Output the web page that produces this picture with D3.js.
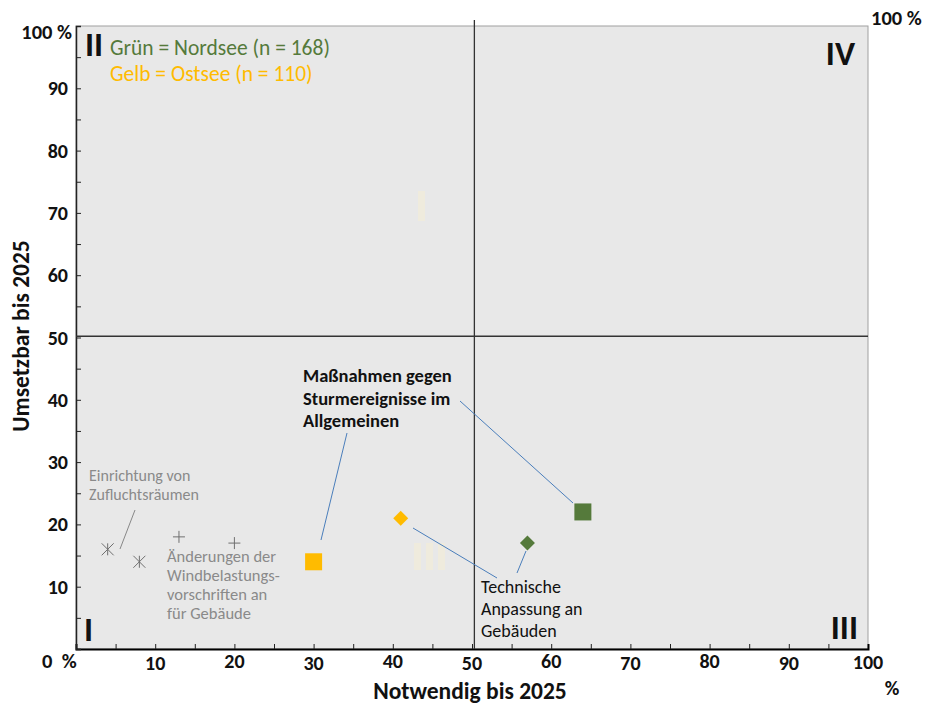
<!DOCTYPE html>
<html>
<head>
<meta charset="utf-8">
<script src="https://cdn.jsdelivr.net/npm/d3@7"></script>
<style>
  html, body { margin: 0; padding: 0; background: #fff; }
  svg { display: block; font-family: Carlito, Lato, "Open Sans", sans-serif; }
</style>
</head>
<body>
<svg id="chart" width="925" height="705"></svg>
<script>
// ---------------- data ----------------
const pointNames = [
  "Maßnahmen gegen Sturmereignisse im Allgemeinen (Nordsee)",
  "Technische Anpassung an Gebäuden (Nordsee)",
  "Maßnahmen gegen Sturmereignisse im Allgemeinen (Ostsee)",
  "Technische Anpassung an Gebäuden (Ostsee)",
  "Einrichtung von Zufluchtsräumen (a)",
  "Einrichtung von Zufluchtsräumen (b)",
  "Änderungen der Windbelastungsvorschriften (a)",
  "Änderungen der Windbelastungsvorschriften (b)"
];
const notwendig = [64, 57, 30, 41, 4, 8, 13, 20];   // x, %
const umsetzbar = [22, 17, 14, 21, 16, 14, 18, 17]; // y, %
const pointShape = ["square", "diamond", "square", "diamond", "asterisk", "asterisk", "plus", "plus"];
const pointGroup = ["Nordsee", "Nordsee", "Ostsee", "Ostsee", "other", "other", "other", "other"];

const xTickValues = [10, 20, 30, 40, 50, 60, 70, 80, 90];
const yTickValues = [10, 20, 30, 40, 50, 60, 70, 80, 90];
const legendLines = ["Grün = Nordsee (n = 168)", "Gelb = Ostsee (n = 110)"];
const quadrantLabels = ["I", "II", "III", "IV"];

// ---------------- setup ----------------
const svg = d3.select("#chart");
const L = 76, R = 868, T = 26, B = 649;
const x = d3.scaleLinear().domain([0, 100]).range([L, R]);
const y = d3.scaleLinear().domain([0, 100]).range([B, T]);
const colors = { Nordsee: "#557a3b", Ostsee: "#ffbb00", other: "#7f7f7f" };

// plot background
svg.append("rect")
  .attr("x", x(0)).attr("y", y(100))
  .attr("width", x(100) - x(0)).attr("height", y(0) - y(100))
  .attr("fill", "#e8e8e8").attr("stroke", "#a0a0a0").attr("stroke-width", 1);

// faint ghost labels
svg.append("rect").attr("x", 418).attr("y", 191).attr("width", 7).attr("height", 30).attr("fill", "#efebdd");
[0, 1, 2].forEach(i => svg.append("rect").attr("x", 414 + i * 12).attr("y", 543).attr("width", 7).attr("height", 27).attr("fill", "#efebdd"));

// axes (ticks inside)
const xAxis = d3.axisBottom(x).tickValues(d3.range(5, 100, 5)).tickSize(-5).tickFormat("");
const gx = svg.append("g").attr("transform", `translate(0,${B})`).call(xAxis);
gx.select(".domain").attr("stroke", "#000").attr("stroke-width", 2);
gx.selectAll(".tick line").attr("stroke", "#222");

const yAxis = d3.axisLeft(y).tickValues(d3.range(5, 100, 5)).tickSize(-5).tickFormat("");
const gy = svg.append("g").attr("transform", `translate(${L},0)`).call(yAxis);
gy.select(".domain").attr("stroke", "#222").attr("stroke-width", 1.5);
gy.selectAll(".tick line").attr("stroke", "#222");

// quadrant lines
svg.append("line").attr("x1", x(50.3)).attr("x2", x(50.3)).attr("y1", 20).attr("y2", B)
  .attr("stroke", "#333").attr("stroke-width", 1.3);
svg.append("line").attr("x1", x(0)).attr("x2", x(100)).attr("y1", y(50.2)).attr("y2", y(50.2))
  .attr("stroke", "#333").attr("stroke-width", 1.3);

// tick labels
svg.append("g").selectAll("text").data(yTickValues).join("text")
  .attr("x", 68).attr("y", d => y(d) + 7)
  .attr("text-anchor", "end").attr("font-weight", "bold").attr("font-size", 20)
  .attr("fill", "#111").text(d => d);
svg.append("g").selectAll("text").data(xTickValues).join("text")
  .attr("x", d => x(d)).attr("y", (d, i) => 669 + (i % 2 === 0 ? 1 : -1))
  .attr("text-anchor", "middle").attr("font-weight", "bold").attr("font-size", 20)
  .attr("fill", "#111").text(d => d);
const bold = (t, px, py, size, anchor) => svg.append("text").attr("x", px).attr("y", py)
  .attr("text-anchor", anchor || "start").attr("font-weight", "bold").attr("font-size", size)
  .attr("fill", "#111").attr("style", "white-space:pre").text(t);
bold("100 %", 72, 39, 20.5, "end");
bold("0  %", 42, 668, 20.5);
bold("100", x(100), 669, 20, "middle");
bold("%", 892, 695, 20, "middle");
bold("100 %", 871, 25, 20.5);

// axis titles
bold("Notwendig bis 2025", 470, 699, 23.5, "middle");
svg.append("text").attr("transform", "translate(29,336) rotate(-90)")
  .attr("text-anchor", "middle").attr("font-weight", "bold").attr("font-size", 23.5)
  .attr("fill", "#111").text("Umsetzbar bis 2025");

// quadrant labels
const qPos = [[84, 641, "start"], [85, 56, "start"], [858, 639, "end"], [855, 65, "end"]];
quadrantLabels.forEach((q, i) => {
  svg.append("text").attr("x", qPos[i][0]).attr("y", qPos[i][1]).attr("text-anchor", qPos[i][2])
    .attr("font-weight", "bold").attr("font-size", 34).attr("fill", "#111").text(q);
});

// legend
svg.append("text").attr("x", 110).attr("y", 55).attr("font-size", 21.5).attr("fill", colors.Nordsee).text(legendLines[0]);
svg.append("text").attr("x", 110).attr("y", 81).attr("font-size", 21.5).attr("fill", colors.Ostsee).text(legendLines[1]);

// leader lines (annotation layout)
const leaders = [
  [0, 573, 503, 460, 401],
  [1, 526, 551, 517, 573],
  [2, 321, 540, 347, 433],
  [3, 413, 528, 497, 578],
  [4, 120, 549, 135, 510]
];
leaders.forEach(l => svg.append("line").attr("x1", l[1]).attr("y1", l[2]).attr("x2", l[3]).attr("y2", l[4])
  .attr("stroke", l[0] === 4 ? "#888" : "#4a7ebb").attr("stroke-width", 1));

// markers
const data = notwendig.map((v, i) => ({ name: pointNames[i], x: v, y: umsetzbar[i], shape: pointShape[i], group: pointGroup[i] }));
const g = svg.append("g");
data.forEach(d => {
  const cx = x(d.x), cy = y(d.y), c = colors[d.group];
  if (d.shape === "square") {
    g.append("rect").attr("x", cx - 8.5).attr("y", cy - 8.5).attr("width", 17).attr("height", 17).attr("fill", c);
  } else if (d.shape === "diamond") {
    g.append("path").attr("d", `M${cx},${cy - 7.5}L${cx + 7.5},${cy}L${cx},${cy + 7.5}L${cx - 7.5},${cy}Z`).attr("fill", c);
  } else if (d.shape === "asterisk") {
    const s = 6;
    g.append("path").attr("d", `M${cx - s},${cy - s}L${cx + s},${cy + s}M${cx - s},${cy + s}L${cx + s},${cy - s}M${cx},${cy - s}L${cx},${cy + s}`)
      .attr("stroke", "#6f6f6f").attr("stroke-width", 1).attr("fill", "none");
  } else {
    const s = 6;
    g.append("path").attr("d", `M${cx - s},${cy}L${cx + s},${cy}M${cx},${cy - s}L${cx},${cy + s}`)
      .attr("stroke", "#6f6f6f").attr("stroke-width", 1).attr("fill", "none");
  }
});

// annotations
const multiline = (lines, px, py, lh, size, fill, weight) => {
  const t = svg.append("text").attr("x", px).attr("y", py).attr("font-size", size).attr("fill", fill).attr("font-weight", weight || "normal");
  lines.forEach((ln, i) => t.append("tspan").attr("x", px).attr("dy", i === 0 ? 0 : lh).text(ln));
};
multiline(["Einrichtung von", "Zufluchtsräumen"], 89, 481, 19, 16, "#8a8a8a");
multiline(["Änderungen der", "Windbelastungs-", "vorschriften an", "für Gebäude"], 167, 562, 19, 16.5, "#8a8a8a");
multiline(["Maßnahmen gegen", "Sturmereignisse im", "Allgemeinen"], 303, 382, 22.5, 18.5, "#111", "bold");
multiline(["Technische", "Anpassung an", "Gebäuden"], 481, 593, 22, 18, "#111");
</script>
</body>
</html>
